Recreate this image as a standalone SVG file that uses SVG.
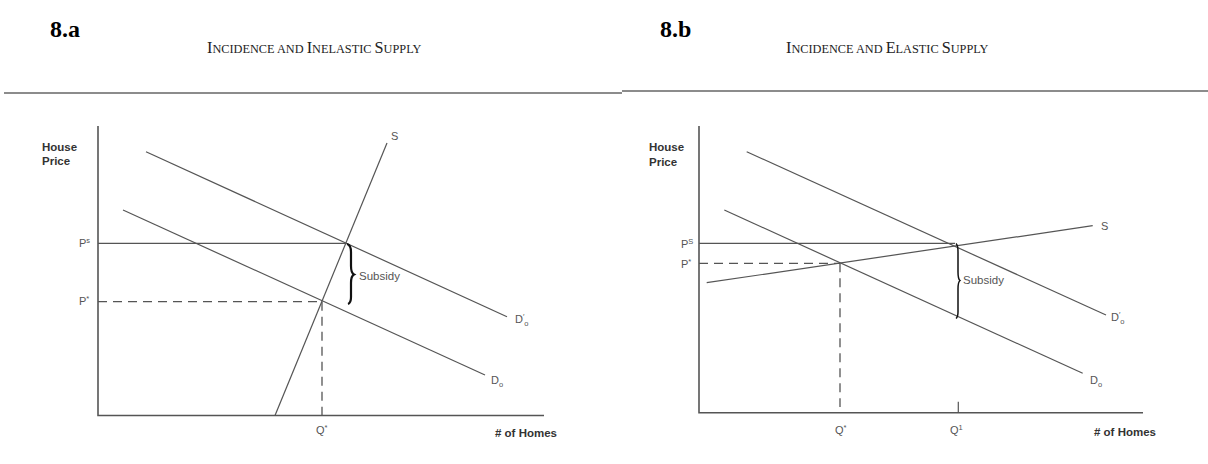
<svg xmlns="http://www.w3.org/2000/svg" width="1208" height="464" viewBox="0 0 1208 464">
<style>
.bg{fill:#fff}
.ln{stroke:#555;stroke-width:1.2;fill:none}
.ax{stroke:#555;stroke-width:1.6;fill:none}
.ds{stroke:#555;stroke-width:1.3;fill:none;stroke-dasharray:9,6}
.rule{stroke:#666;stroke-width:1.6}
.hd{font-family:"Liberation Serif",serif;font-weight:bold;font-size:24px;fill:#000}
.tt{font-family:"Liberation Serif",serif;fill:#222;font-size:16.2px}
.tt .sm{font-size:12.3px}
.lb{font-family:"Liberation Sans",Arial,sans-serif;font-size:11px;fill:#555}
.bl{font-family:"Liberation Sans",Arial,sans-serif;font-size:11.5px;font-weight:bold;fill:#333}
.sb{font-family:"Liberation Sans",Arial,sans-serif;font-size:11.5px;fill:#555}
.br{stroke:#111;fill:none}
</style>
<rect class="bg" x="0" y="0" width="1208" height="464"/>

<g id="headers">
<text class="hd" x="50" y="37">8.a</text>
<text class="hd" x="660" y="37">8.b</text>
<text class="tt" x="207" y="53">I<tspan class="sm">NCIDENCE AND </tspan>I<tspan class="sm">NELASTIC </tspan>S<tspan class="sm">UPPLY</tspan></text>
<text class="tt" x="786" y="53">I<tspan class="sm">NCIDENCE AND </tspan>E<tspan class="sm">LASTIC </tspan>S<tspan class="sm">UPPLY</tspan></text>
<line class="rule" x1="4" y1="93" x2="622" y2="93"/>
<line class="rule" x1="622" y1="91" x2="1208" y2="91"/>
</g>

<!-- Chart A -->
<g id="chartA-axes">
<polyline class="ax" points="98,126 98,415.5 544,415.5"/>
<text class="bl" x="42" y="151">House</text>
<text class="bl" x="42" y="165">Price</text>
<text class="bl" x="495" y="437"># of Homes</text>
</g>
<g id="chartA-connectors">
<line class="ln" x1="98" y1="243.3" x2="347" y2="243.3"/>
<line class="ds" x1="98" y1="301.7" x2="322" y2="301.7"/>
<line class="ds" x1="322" y1="301.7" x2="322" y2="415"/>
<line class="ln" x1="275" y1="415.5" x2="387" y2="143"/>
<line class="ln" x1="146" y1="151.7" x2="507" y2="316.7"/>
<line class="ln" x1="123" y1="210" x2="485" y2="375"/>
</g>
<g id="chartA-labels">
<text class="lb" x="79" y="247">P<tspan font-size="7.5" dy="-4">s</tspan></text>
<text class="lb" x="79" y="305">P<tspan font-size="7.5" dy="-4">*</tspan></text>
<text class="lb" x="316" y="434">Q<tspan font-size="7.5" dy="-4">*</tspan></text>
<text class="lb" x="391" y="140">S</text>
<text class="lb" x="515" y="323">D<tspan font-size="7.5" dy="-4">′</tspan><tspan font-size="7.5" dy="7">o</tspan></text>
<text class="lb" x="491" y="384">D<tspan font-size="7.5" dy="3">o</tspan></text>
</g>
<g id="chartA-subsidy">
<path class="br" stroke-width="2.2" d="M347,244 Q351,245 351,252 L351,266 Q351,273 354,274.5 Q351,276 351,283 L351,297 Q351,303 348,304"/>
<text class="sb" x="359" y="280">Subsidy</text>
</g>

<!-- Chart B -->
<g id="chartB-axes">
<polyline class="ax" points="699,126 699,412.7 1143,412.7"/>
<line class="ln" x1="958.3" y1="401.7" x2="958.3" y2="412.7"/>
<text class="bl" x="649" y="151">House</text>
<text class="bl" x="649" y="166">Price</text>
<text class="bl" x="1094" y="436"># of Homes</text>
</g>
<g id="chartB-connectors">
<line class="ln" x1="699" y1="243.3" x2="955" y2="243.3"/>
<line class="ds" x1="699" y1="263.3" x2="840" y2="263.3"/>
<line class="ds" x1="840" y1="263.3" x2="840" y2="407"/>
<line class="ln" x1="706.7" y1="282.7" x2="1092.7" y2="225.7"/>
<line class="ln" x1="746.7" y1="151.7" x2="1106" y2="315"/>
<line class="ln" x1="724.3" y1="210" x2="1082.7" y2="373.3"/>
</g>
<g id="chartB-labels">
<text class="lb" x="681" y="248">P<tspan font-size="7.5" dy="-4">S</tspan></text>
<text class="lb" x="681" y="268">P<tspan font-size="7.5" dy="-4">*</tspan></text>
<text class="lb" x="835" y="434">Q<tspan font-size="7.5" dy="-4">*</tspan></text>
<text class="lb" x="950" y="434">Q<tspan font-size="7.5" dy="-4">1</tspan></text>
<text class="lb" x="1101" y="230">S</text>
<text class="lb" x="1111" y="321">D<tspan font-size="7.5" dy="-4">′</tspan><tspan font-size="7.5" dy="7">o</tspan></text>
<text class="lb" x="1090" y="384">D<tspan font-size="7.5" dy="3">o</tspan></text>
</g>
<g id="chartB-subsidy">
<path class="br" stroke-width="1.5" d="M956,243.5 Q958,245 958,252 L958,272 Q958,279 960,280.5 Q958,282 958,289 L958,312 Q958,317 956,318.5"/>
<text class="sb" x="963" y="284">Subsidy</text>
</g>
</svg>
